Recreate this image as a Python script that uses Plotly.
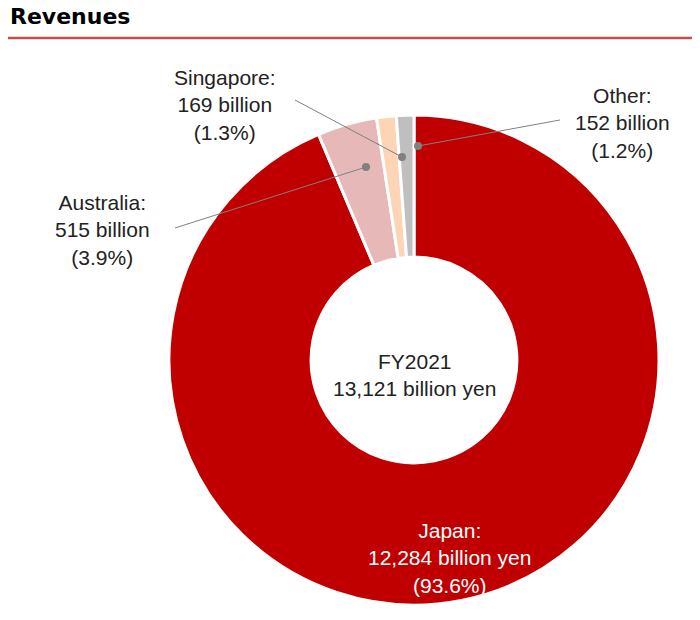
import plotly.graph_objects as go

regions = ["Japan", "Australia", "Singapore", "Other"]
revenues = [12284, 515, 169, 152]
colors = ["#C00000", "#E6B9B8", "#FBD5B5", "#BFBFBF"]
label_texts = [
    "Japan:<br>12,284 billion yen<br>(93.6%)",
    "Australia:<br>515 billion<br>(3.9%)",
    "Singapore:<br>169 billion<br>(1.3%)",
    "Other:<br>152 billion<br>(1.2%)",
]

W, H = 700, 620
OFF = 8  # page body margin


def px(x, y):
    return (x - OFF) / W, 1 - (y - OFF) / H


fig = go.Figure()
dx0, dy0 = px(169, 605)
dx1, dy1 = px(659, 115)
fig.add_trace(go.Pie(
    labels=regions, values=revenues, sort=False, direction="clockwise",
    hole=0.42, textinfo="none", hoverinfo="label+value",
    marker=dict(colors=colors, line=dict(color="white", width=3)),
    domain=dict(x=[dx0, dx1], y=[dy0, dy1]),
    showlegend=False,
))

font = dict(family="Liberation Sans, Arial", size=21, color="#222222")
label_pos = [(449, 558), (103, 230), (225, 105), (622, 123)]
leaders = [None, ((175, 228), (366, 167)), ((295, 100), (402, 157)), ((560, 120), (418, 146))]

annotations = []
shapes = []
for i, txt in enumerate(label_texts):
    x, y = px(*label_pos[i])
    f = dict(font)
    if i == 0:
        f["color"] = "white"
    annotations.append(dict(x=x, y=y, xref="paper", yref="paper", text=txt,
                            xanchor="center", yanchor="middle",
                            showarrow=False, font=f, align="center"))
    if leaders[i]:
        (x0, y0), (x1, y1) = leaders[i]
        a0, b0 = px(x0, y0)
        a1, b1 = px(x1, y1)
        shapes.append(dict(type="line", xref="paper", yref="paper", x0=a0, y0=b0,
                           x1=a1, y1=b1, line=dict(color="#808080", width=1)))
        shapes.append(dict(type="circle", xref="paper", yref="paper",
                           x0=a1 - 4 / W, x1=a1 + 4 / W, y0=b1 - 4 / H, y1=b1 + 4 / H,
                           fillcolor="#808080", line=dict(color="#808080", width=0)))

cx, cy = px(414, 375)
annotations.append(dict(x=cx, y=cy, xref="paper", yref="paper",
                        xanchor="center", yanchor="middle",
                        text="FY2021<br>13,121 billion yen", showarrow=False,
                        font=font, align="center"))
tx, ty = px(8, 16)
annotations.append(dict(x=tx, y=ty, xref="paper", yref="paper", xanchor="left",
                        yanchor="middle", text="<b>Revenues</b>", showarrow=False,
                        font=dict(family="DejaVu Sans", size=22, color="black")))
_, ly = px(0, 38)
shapes.append(dict(type="line", xref="paper", yref="paper", x0=0, x1=1, y0=ly, y1=ly,
                   line=dict(color="#C0504D", width=2.5)))

fig.update_layout(width=W, height=H, margin=dict(l=0, r=0, t=0, b=0),
                  paper_bgcolor="white", plot_bgcolor="white",
                  annotations=annotations, shapes=shapes)
fig.write_html("out.html")
